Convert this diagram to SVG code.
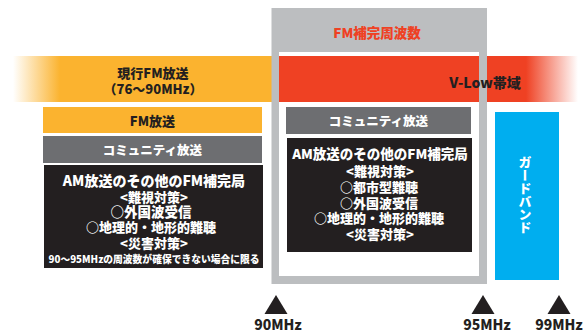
<svg xmlns="http://www.w3.org/2000/svg" width="587" height="333" viewBox="0 0 587 333">
<defs>
<linearGradient id="gOrange" x1="13" y1="0" x2="60" y2="0" gradientUnits="userSpaceOnUse">
<stop offset="0" stop-color="#fbb32f" stop-opacity="0"/>
<stop offset="1" stop-color="#fbb32f" stop-opacity="1"/>
</linearGradient>
<linearGradient id="gRed" x1="526" y1="0" x2="578" y2="0" gradientUnits="userSpaceOnUse">
<stop offset="0" stop-color="#ef4123" stop-opacity="1"/>
<stop offset="1" stop-color="#ef4123" stop-opacity="0"/>
</linearGradient>
<style>
text{font-family:"Noto Sans CJK JP","Noto Sans",sans-serif;font-weight:900;text-anchor:middle;dominant-baseline:central}
.w{fill:#ffffff}
.d{fill:#231f20}
.r{fill:#ef4123}
.blk{fill:#231f20}
.gry{fill:#6d6e71}
.org{fill:#fbb32f}
.tri{fill:#231f20}
</style>
</defs>
<g id="bands">
<rect x="13" y="56" width="260" height="46" fill="url(#gOrange)"/>
<rect x="279" y="56" width="300" height="46" fill="url(#gRed)"/>
</g>
<g id="fm-complement-frame">
<path d="M271.5 8 H487 V284 H271.5 Z M279 52 V276 H479 V52 Z" fill="#bcbec0" fill-rule="evenodd"/>
<rect x="279" y="56" width="200" height="46" fill="#ef4123"/>
<text class="r" x="377" y="32" font-size="13.5">FM補完周波数</text>
</g>
<g id="current-fm">
<text class="d" x="153" y="72" font-size="13">現行FM放送</text>
<text class="d" x="153" y="88" font-size="13">（76～90MHz）</text>
</g>
<g id="vlow">
<text class="d" x="485" y="82" font-size="14">V-Low帯域</text>
</g>
<g id="left-fm">
<rect class="org" x="43" y="107" width="219" height="26"/>
<text class="d" x="152.5" y="120" font-size="13">FM放送</text>
</g>
<g id="left-community">
<rect class="gry" x="43" y="136" width="219" height="27"/>
<text class="w" x="152.5" y="149.5" font-size="12.5">コミュニティ放送</text>
</g>
<g id="left-am">
<rect class="blk" x="44" y="165" width="219" height="103"/>
<text class="w" x="154" y="180" font-size="14">AM放送のその他のFM補完局</text>
<text class="w" x="154" y="196" font-size="13">&lt;難視対策&gt;</text>
<text class="w" x="151" y="211" font-size="13.5">○外国波受信</text>
<text class="w" x="151" y="226" font-size="13">○地理的・地形的難聴</text>
<text class="w" x="154" y="242" font-size="13">&lt;災害対策&gt;</text>
<text class="w" x="154" y="258" font-size="10" textLength="211" lengthAdjust="spacingAndGlyphs">90～95MHzの周波数が確保できない場合に限る</text>
</g>
<g id="right-community">
<rect class="gry" x="286" y="107" width="185" height="27"/>
<text class="w" x="378.5" y="120.5" font-size="12.5">コミュニティ放送</text>
</g>
<g id="right-am">
<rect class="blk" x="287" y="138" width="185" height="114"/>
<text class="w" x="380" y="153" font-size="13.5">AM放送のその他のFM補完局</text>
<text class="w" x="380" y="170" font-size="13">&lt;難視対策&gt;</text>
<text class="w" x="379" y="186" font-size="13">○都市型難聴</text>
<text class="w" x="379" y="202" font-size="13">○外国波受信</text>
<text class="w" x="379" y="217" font-size="13">○地理的・地形的難聴</text>
<text class="w" x="380" y="233" font-size="13">&lt;災害対策&gt;</text>
</g>
<g id="guard-band">
<rect x="495" y="112" width="64" height="168" fill="#00aeef"/>
<text class="w" x="525" y="194.5" font-size="13" style="writing-mode:vertical-rl">ガードバンド</text>
</g>
<g id="markers">
<g id="m90">
<polygon class="tri" points="276,295 264.5,314 287.5,314"/>
<text class="d" x="278" y="324" font-size="14">90MHz</text>
</g>
<g id="m95">
<polygon class="tri" points="483,295 471.5,314 494.5,314"/>
<text class="d" x="487" y="324" font-size="14">95MHz</text>
</g>
<g id="m99">
<polygon class="tri" points="559,295 547.5,314 570.5,314"/>
<text class="d" x="559" y="324" font-size="14">99MHz</text>
</g>
</g>
</svg>
